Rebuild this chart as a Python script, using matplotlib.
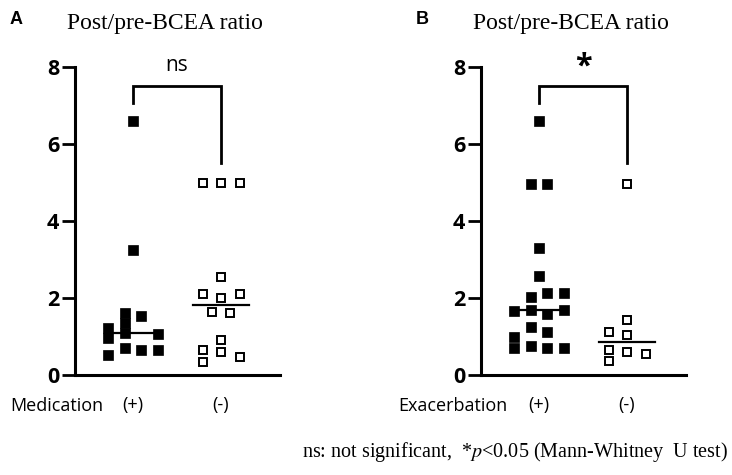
import matplotlib
matplotlib.use("Agg")
import matplotlib.pyplot as plt
import numpy as np

# Post/pre-BCEA ratios
medication_pos = [6.6, 3.25, 1.22, 0.96, 0.52, 1.61, 1.35, 1.09, 0.70, 1.53, 0.65, 1.06, 0.65]
medication_neg = [5.0, 5.0, 5.0, 2.55, 2.10, 2.0, 2.10, 1.64, 1.60, 0.65, 0.34, 0.91, 0.60, 0.47]
exacerbation_pos = [6.59, 4.97, 4.97, 3.31, 2.58, 2.03, 2.14, 2.14, 1.67, 1.69, 1.59, 1.69,
                    1.25, 1.12, 0.99, 0.70, 0.76, 0.70, 0.70]
exacerbation_neg = [4.97, 1.12, 1.43, 1.04, 0.65, 0.36, 0.60, 0.55]

# scatter column slot of each point (layout only, like a GraphPad dot plot)
medication_pos_col = [0, 0, -1.5, -1.5, -1.5, -0.5, -0.5, -0.5, -0.5, 0.5, 0.5, 1.5, 1.5]
medication_neg_col = [-1, 0, 1, 0, -1, 0, 1, -0.5, 0.5, -1, -1, 0, 0, 1]
exacerbation_pos_col = [0, -0.5, 0.5, 0, 0, -0.5, 0.5, 1.5, -1.5, -0.5, 0.5, 1.5,
                        -0.5, 0.5, -1.5, -1.5, -0.5, 0.5, 1.5]
exacerbation_neg_col = [0, -1, 0, 0, -1, -1, 0, 1]

group_labels = ["(+)", "(-)"]
y_ticks = [0, 2, 4, 6, 8]

panels = [
    dict(letter="A", factor="Medication", sig="ns",
         pos=medication_pos, pos_col=medication_pos_col,
         neg=medication_neg, neg_col=medication_neg_col, left=75),
    dict(letter="B", factor="Exacerbation", sig="*",
         pos=exacerbation_pos, pos_col=exacerbation_pos_col,
         neg=exacerbation_neg, neg_col=exacerbation_neg_col, left=481),
]

W, H = 732, 475
plt.rcParams["mathtext.fontset"] = "stix"
fig = plt.figure(figsize=(W / 100, H / 100), dpi=100)

sans = ["Open Sans", "DejaVu Sans"]
serif = ["Liberation Serif", "DejaVu Serif"]


def draw_panel(p):
    ax = fig.add_axes([p["left"] / W, (H - 375) / H, 205 / W, 308 / H])
    ax.set_xlim(0.341, 2.67)
    ax.set_ylim(0, 8)

    # filled squares for (+), open squares for (-)
    xs = 1 + 0.19 * np.array(p["pos_col"])
    ax.plot(xs, p["pos"], ls="none", marker="s", ms=7, mfc="black", mec="black",
            mew=0.5, clip_on=False, zorder=3)
    xs = 2 + 0.21 * np.array(p["neg_col"])
    ax.plot(xs, p["neg"], ls="none", marker="s", ms=6.2, mfc="white", mec="black",
            mew=1.4, clip_on=False, zorder=3)

    for gx, vals in ((1, p["pos"]), (2, p["neg"])):
        m = np.median(vals)
        ax.plot([gx - 0.32, gx + 0.32], [m, m], color="black", lw=1.6, zorder=4)

    # significance bracket
    ax.plot([1, 1, 2, 2], [7.07, 7.5, 7.5, 5.5], color="black", lw=2.0,
            solid_joinstyle="miter", clip_on=False)
    if p["sig"] == "ns":
        ax.text(1.5, 8.05, "ns", ha="center", va="center", fontsize=15,
                family=sans)
    else:
        ax.text(1.5, 8.0, "*", ha="center", va="center", fontsize=22,
                fontweight="bold", family=sans)

    for side in ("top", "right"):
        ax.spines[side].set_visible(False)
    for side in ("left", "bottom"):
        ax.spines[side].set_linewidth(2.2)

    ax.set_yticks(y_ticks)
    ax.set_yticklabels([str(t) for t in y_ticks], fontsize=15.5, fontweight="bold",
                       family=sans)
    ax.tick_params(axis="y", length=9.5, width=2.0, pad=2)
    ax.set_xticks([1, 2])
    ax.set_xticklabels(group_labels, fontsize=13, family=sans)
    ax.tick_params(axis="x", length=0, pad=15)

    # factor name on the same line as the group labels
    fx = (p["left"] - 65 if p["letter"] == "A" else p["left"] - 83) / W
    fig.text(fx, 1 - 406 / H, p["factor"], ha="left", va="center", fontsize=13,
             family=sans)

    fig.text((p["left"] - 65) / W, 1 - 20 / H, p["letter"], ha="left", va="center",
             fontsize=13, fontweight="bold", family=["Liberation Sans", "DejaVu Sans"])
    fig.text((p["left"] - 8) / W, 1 - 23 / H, "Post/pre-BCEA ratio", ha="left",
             va="center", fontsize=17, family=serif)


for p in panels:
    draw_panel(p)

fig.text(728 / W, 1 - 452 / H,
         r"ns: not significant,  *$p$<0.05 (Mann-Whitney  U test)",
         ha="right", va="center", fontsize=14.5, family=serif)

fig.savefig("out.png", dpi=100)
